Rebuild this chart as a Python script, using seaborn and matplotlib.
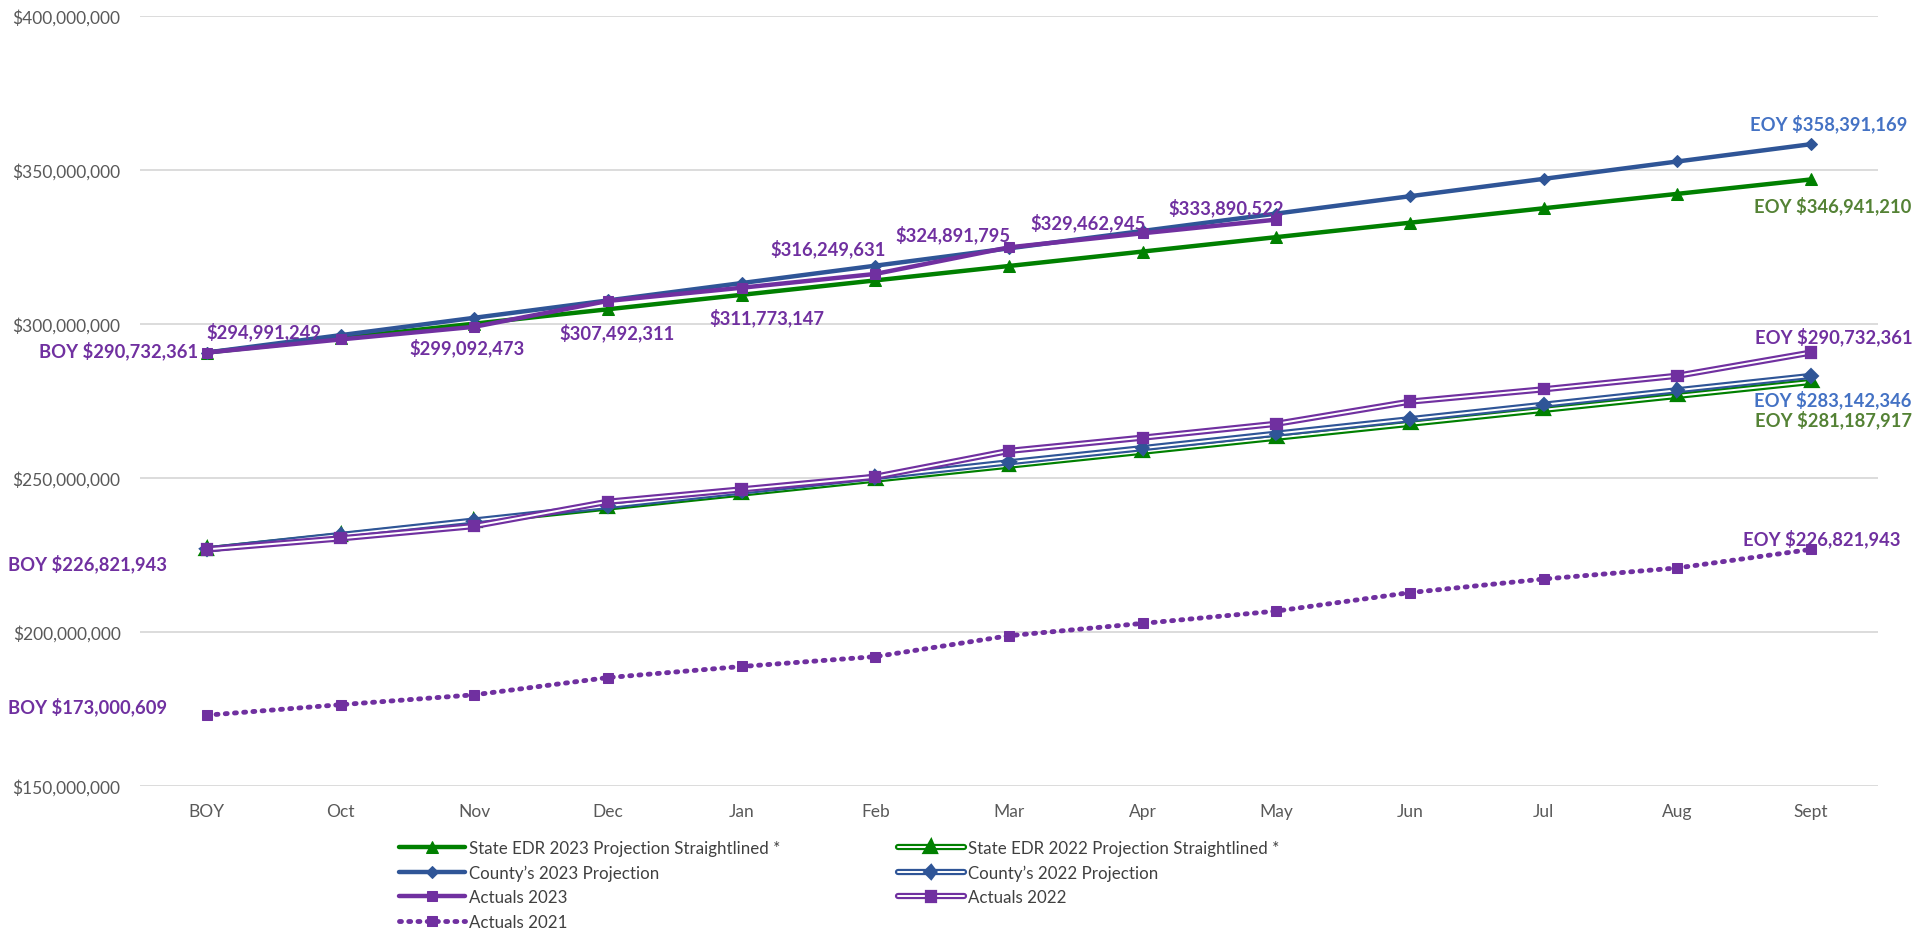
import pandas as pd
import seaborn as sns
import matplotlib.pyplot as plt
import matplotlib.patheffects as pe
from matplotlib.ticker import FuncFormatter

# Data
months = ['BOY', 'Oct', 'Nov', 'Dec', 'Jan', 'Feb', 'Mar', 'Apr', 'May', 'Jun', 'Jul', 'Aug', 'Sept']

state_2023 = [290732361, 295416600, 300100800, 304785000, 309469300, 314153500, 318837800,
              323522000, 328206200, 332890500, 337574700, 342259000, 346941210]
county_2023 = [290732361, 296370000, 302010000, 307650000, 313290000, 318930000, 324570000,
               330210000, 335850000, 341490000, 347130000, 352770000, 358391169]
actuals_2023 = [290732361, 294991249, 299092473, 307492311, 311773147, 316249631, 324891795,
                329462945, 333890522]

state_2022 = [226821943, 231350000, 235880000, 240410000, 244940000, 249470000, 254000000,
              258530000, 263070000, 267600000, 272130000, 276660000, 281187917]
county_2022 = [226821943, 231500000, 236200000, 240900000, 245600000, 250300000, 255100000,
               259700000, 264400000, 269100000, 273800000, 278500000, 283142346]
actuals_2022 = [226821943, 230400000, 234400000, 242300000, 246300000, 250400000, 258800000,
                263100000, 267600000, 274800000, 278800000, 283200000, 290732361]

actuals_2021 = [173000609, 176400000, 179600000, 185200000, 188800000, 192000000, 198800000,
                202800000, 206800000, 212800000, 217200000, 220800000, 226821943]

GREEN = '#008000'
BLUE = '#2F5597'
PURPLE = '#7030A0'

sns.set_theme(style='white')
plt.rcParams['font.family'] = ['Lato', 'DejaVu Sans']

fig = plt.figure(figsize=(19.32, 9.37), dpi=100)
ax = fig.add_axes([140 / 1932, 1 - 787 / 937, (1878 - 140) / 1932, (787 - 17) / 937])

def double(color):
    return [pe.Stroke(linewidth=4.5, foreground=color), pe.Normal()]

common = dict(sort=False, estimator=None, ax=ax)

# plotting order: green below, blue, purple on top
sns.lineplot(x=months, y=state_2023, color=GREEN, lw=3.2, marker='^', ms=8, mec=GREEN,
             label='State EDR 2023 Projection Straightlined *', **common)
sns.lineplot(x=months, y=state_2022, color='white', lw=1.4, marker='^', ms=5, mfc=GREEN, mec=GREEN,
             path_effects=double(GREEN), label='State EDR 2022 Projection Straightlined *', **common)
sns.lineplot(x=months, y=county_2023, color=BLUE, lw=3.2, marker='D', ms=6, mec=BLUE,
             label='County\u2019s 2023 Projection', **common)
sns.lineplot(x=months, y=county_2022, color='white', lw=1.4, marker='D', ms=3.8, mfc=BLUE, mec=BLUE,
             path_effects=double(BLUE), label='County\u2019s 2022 Projection', **common)
sns.lineplot(x=months[:len(actuals_2023)], y=actuals_2023, color=PURPLE, lw=3.2, marker='s', ms=7,
             mec=PURPLE, label='Actuals 2023', **common)
sns.lineplot(x=months, y=actuals_2022, color='white', lw=1.4, marker='s', ms=4.5, mfc=PURPLE, mec=PURPLE,
             path_effects=double(PURPLE), label='Actuals 2022', **common)
sns.lineplot(x=months, y=actuals_2021, color=PURPLE, lw=3.5, marker='s', ms=7, mec=PURPLE,
             linestyle=(0, (0.4, 1.5)), dash_capstyle='round', label='Actuals 2021', **common)

# Axes styling
ax.set_ylim(150_000_000, 400_000_000)
ax.set_xlim(-0.5, 12.5)
ax.set_yticks(range(150_000_000, 400_000_001, 50_000_000))
ax.yaxis.set_major_formatter(FuncFormatter(lambda v, p: '${:,.0f}'.format(v)))
ax.yaxis.grid(True, color='#D9D9D9', lw=1.3)
ax.xaxis.grid(False)
for s in ax.spines.values():
    s.set_visible(False)
ax.tick_params(axis='both', length=0, labelsize=12.5, colors='#595959')
ax.tick_params(axis='y', pad=14)
ax.tick_params(axis='x', pad=12)
ax.set_xlabel('')
ax.set_ylabel('')

# Data labels
def label(i, v, text, dx, dy, color=PURPLE, ha='center'):
    ax.annotate(text, (i, v), xytext=(dx, -dy), textcoords='offset pixels', ha=ha, va='center',
                color=color, fontsize=13.2, fontweight='bold')

label(0, actuals_2023[0], 'BOY $290,732,361', -9, -3, ha='right')
label(1, actuals_2023[1], '$294,991,249', -77, -9)
label(2, actuals_2023[2], '$299,092,473', -7, 20)
label(3, actuals_2023[3], '$307,492,311', 9, 31)
label(4, actuals_2023[4], '$311,773,147', 25, 29)
label(5, actuals_2023[5], '$316,249,631', -47, -26)
label(6, actuals_2023[6], '$324,891,795', -56, -13)
label(7, actuals_2023[7], '$329,462,945', -55, -11)
label(8, actuals_2023[8], '$333,890,522', -50, -13)
label(12, county_2023[-1], 'EOY $358,391,169', 18, -21, color='#4472C4')
label(12, state_2023[-1], 'EOY $346,941,210', 22, 25, color='#548235')
label(12, actuals_2022[-1], 'EOY $290,732,361', 23, -17)
label(12, county_2022[-1], 'EOY $283,142,346', 22, 23, color='#4472C4')
label(12, state_2022[-1], 'EOY $281,187,917', 22, 37, color='#548235')
label(0, actuals_2022[0], 'BOY $226,821,943', -40, 13, ha='right')
label(12, actuals_2021[-1], 'EOY $226,821,943', 11, -12)
label(0, actuals_2021[0], 'BOY $173,000,609', -40, -9, ha='right')

# Legend
handles, labels = ax.get_legend_handles_labels()
order = [0, 2, 4, 6, 1, 3, 5]
ax.legend([handles[k] for k in order], [labels[k] for k in order], ncol=2, frameon=False,
          loc='upper left', bbox_to_anchor=(399 / 1932, 1 - 841 / 937), bbox_transform=fig.transFigure,
          borderpad=0, borderaxespad=0, fontsize=12.2, handlelength=3.9, handletextpad=0.25,
          labelspacing=0.5, columnspacing=6.9, labelcolor='#404040')

fig.savefig('out.png', dpi=100)
